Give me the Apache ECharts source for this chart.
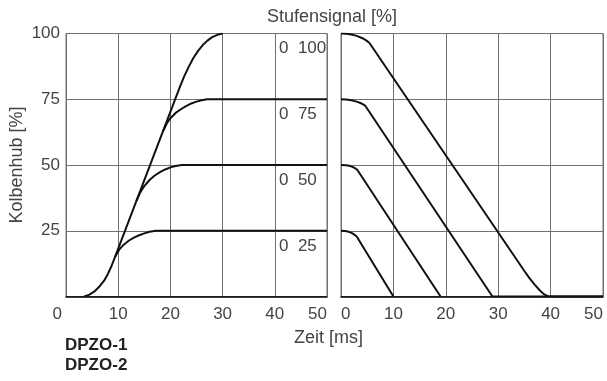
<!DOCTYPE html>
<html>
<head>
<meta charset="utf-8">
<script src="https://cdn.jsdelivr.net/npm/echarts@6/dist/echarts.min.js"></script>
<style>
  html, body { margin: 0; padding: 0; background: #fff; }
  #chart { width: 607px; height: 381px; }
</style>
</head>
<body>
<div id="chart"></div>
<script>
// Stufensignal 0 -> x (links) und x -> 0 (rechts), Zeit [ms] / Kolbenhub [%]
const levels = [100, 75, 50, 25];
const levelLabels = ['0  100', '0  75', '0  50', '0  25'];

// linkes Diagramm: Sprung von 0 auf x
const rise100 = [[3.5, 0], [4.5, 0.7], [5.5, 2], [6.5, 4], [7.3, 6], [8, 8.5], [8.7, 11.5], [9.4, 15.1],
  [21.8, 79.6], [22.6, 83.5], [23.5, 87.3], [24.4, 90.7], [25.3, 93.4], [26.2, 95.6], [27.1, 97.3],
  [28, 98.6], [29, 99.5], [30, 100]];
const rise75 = [[18.6, 62.9], [19.3, 65.8], [20, 67.8], [21, 69.8], [22, 71.2], [23, 72.4], [24, 73.4],
  [25, 74.1], [26, 74.6], [27, 75], [50, 75]];
const rise50 = [[13.5, 36.4], [14.2, 39.5], [15, 42], [16, 44.3], [17, 46], [18, 47.3], [19, 48.3],
  [20, 49.1], [21, 49.6], [22.2, 50], [50, 50]];
const rise25 = [[9.4, 15.1], [10.2, 17.8], [11, 19.6], [12, 21.2], [13, 22.4], [14, 23.3], [15, 24],
  [16, 24.6], [17.2, 25], [50, 25]];

// rechtes Diagramm: Sprung von x auf 0
const fall100 = [[0, 100], [1, 99.9], [2, 99.6], [3, 99.1], [4, 98.3], [4.8, 97.4], [5.4, 96.5],
  [35, 9.7], [36, 6.9], [37, 4.4], [38, 2.2], [38.8, 0.8], [39.5, 0.1], [40.2, 0], [50, 0]];
const fall75 = [[0, 75], [1, 74.9], [2, 74.6], [3, 74.1], [3.8, 73.5], [4.6, 72.6], [28.9, 0], [50, 0]];
const fall50 = [[0, 50], [1, 49.9], [1.8, 49.6], [2.5, 49], [3.1, 48.2], [19, 0]];
const fall25 = [[0, 25], [0.8, 24.9], [1.5, 24.6], [2.2, 24], [3, 22.8], [10, 0]];

const chart = echarts.init(document.getElementById('chart'), null, { renderer: 'canvas' });

const txt = '#444';
const gridCol = '#707070';
const font = 'Liberation Sans, Arial, sans-serif';

function xAxisFor(gridIndex, minAlign, zeroPad) {
  return {
    type: 'value', gridIndex: gridIndex, min: 0, max: 50, interval: 10,
    axisLine: { show: true, lineStyle: { color: '#000', width: 1.5 } },
    axisTick: { show: false },
    splitLine: { show: true, lineStyle: { color: gridCol, width: 1 } },
    axisLabel: {
      color: txt, fontSize: 17, fontFamily: font, margin: 9,
      alignMinLabel: minAlign, alignMaxLabel: 'right',
      formatter: v => (v === 0 ? '{z|0}' : String(v)),
      rich: { z: { color: txt, fontSize: 17, fontFamily: font, padding: [0, zeroPad, 0, 0] } }
    }
  };
}

function yAxisFor(gridIndex, showLabels) {
  return {
    type: 'value', gridIndex: gridIndex, min: 0, max: 100, interval: 25,
    axisLine: { show: false },
    axisTick: { show: false },
    splitLine: { show: true, lineStyle: { color: gridCol, width: 1 } },
    axisLabel: { show: showLabels, showMinLabel: false, color: txt, fontSize: 17, fontFamily: font, margin: 6 },
    name: showLabels ? 'Kolbenhub [%]' : '',
    nameLocation: 'middle', nameGap: 40,
    nameTextStyle: { color: txt, fontSize: 18, fontFamily: font }
  };
}

function line(data, idx) {
  return {
    type: 'line', data: data, xAxisIndex: idx, yAxisIndex: idx,
    showSymbol: false, symbol: 'none', smooth: false,
    lineStyle: { color: '#111', width: 2 }, z: 5, silent: true
  };
}

const labelTexts = levelLabels.map((t, i) => ({
  type: 'text', left: 279, top: 40 + i * 66,
  style: { text: t, fill: txt, font: '17px ' + font }
}));

chart.setOption({
  animation: false,
  backgroundColor: '#fff',
  grid: [
    { left: 66, top: 33.5, width: 261, height: 263, show: true, borderColor: gridCol, borderWidth: 1 },
    { left: 341, top: 33.5, width: 262, height: 263, show: true, borderColor: gridCol, borderWidth: 1 }
  ],
  xAxis: [xAxisFor(0, 'right', 4), xAxisFor(1, 'left', 0)],
  yAxis: [yAxisFor(0, true), yAxisFor(1, false)],
  series: [
    line(rise100, 0), line(rise75, 0), line(rise50, 0), line(rise25, 0),
    line(fall100, 1), line(fall75, 1), line(fall50, 1), line(fall25, 1)
  ],
  graphic: [
    { type: 'text', left: 267, top: 8, style: { text: 'Stufensignal [%]', fill: txt, font: '18px ' + font } },
    { type: 'text', left: 294, top: 329, style: { text: 'Zeit [ms]', fill: txt, font: '18px ' + font } },
    { type: 'text', left: 65, top: 337, style: { text: 'DPZO-1', fill: '#222', font: 'bold 17px ' + font } },
    { type: 'text', left: 65, top: 357, style: { text: 'DPZO-2', fill: '#222', font: 'bold 17px ' + font } }
  ].concat(labelTexts)
});
</script>
</body>
</html>
